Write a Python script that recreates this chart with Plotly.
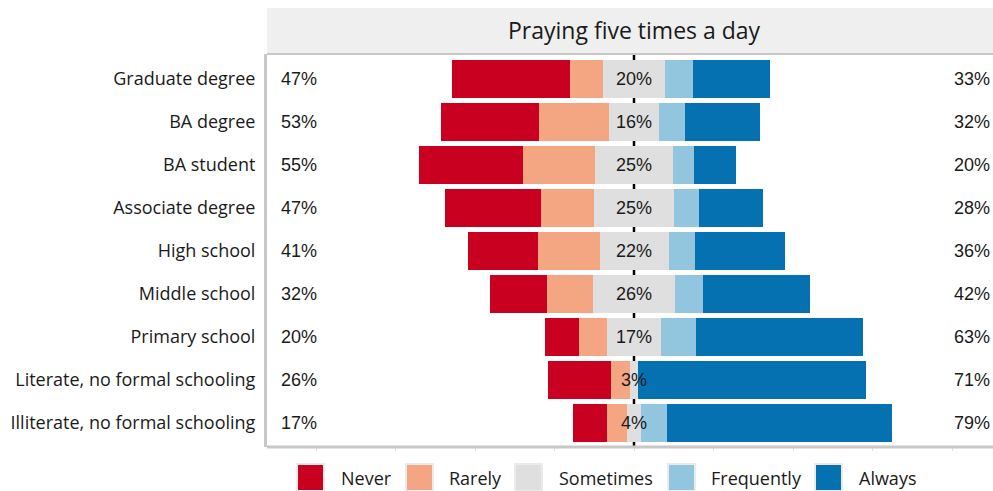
import plotly.graph_objects as go

categories = ["Graduate degree", "BA degree", "BA student", "Associate degree",
              "High school", "Middle school", "Primary school",
              "Literate, no formal schooling", "Illiterate, no formal schooling"]
never      = [37.1, 30.8, 32.7, 30.2, 22.3, 17.9, 10.7, 20.1, 10.7]
rarely     = [10.1, 22.0, 22.6, 16.7, 19.2, 14.5,  8.8,  5.7,  6.3]
sometimes  = [19.8, 15.6, 24.8, 25.2, 21.7, 25.6, 17.0,  2.8,  4.1]
frequently = [ 8.5,  8.2,  6.6,  7.9,  8.2,  8.8, 11.0,  0.0,  8.2]
always     = [24.5, 23.6, 13.2, 20.1, 28.3, 33.6, 52.5, 71.4, 70.8]
left_labels  = ["47%", "53%", "55%", "47%", "41%", "32%", "20%", "26%", "17%"]
mid_labels   = ["20%", "16%", "25%", "25%", "22%", "26%", "17%", "3%", "4%"]
right_labels = ["33%", "32%", "20%", "28%", "36%", "42%", "63%", "71%", "79%"]
levels = ["Never", "Rarely", "Sometimes", "Frequently", "Always"]
colors = ["#CA0020", "#F4A582", "#DFDFDF", "#92C5DE", "#0571B0"]
title = "Praying five times a day"

W, H = 993, 491
L, R, T, B = 267, 0, 54, 44
PW, PH = W - L - R, H - T - B

def px(x):
    return (x - L) / PW

def py(y):
    return (H - B - y) / PH

half = [s / 2 for s in sometimes]
bases = [
    [-(h + r + n) for h, r, n in zip(half, rarely, never)],
    [-(h + r) for h, r in zip(half, rarely)],
    [-h for h in half],
    [h for h in half],
    [h + f for h, f in zip(half, frequently)],
]
widths = [never, rarely, sometimes, frequently, always]

fig = go.Figure()
for lvl, col, b, w in zip(levels, colors, bases, widths):
    fig.add_trace(go.Bar(y=categories, x=w, base=b, orientation="h", name=lvl,
                         marker=dict(color=col, line=dict(width=0)), width=0.9,
                         showlegend=False, hoverinfo="skip"))

num_font = dict(family="Liberation Sans, Arial, sans-serif", size=18, color="#1a1a1a")
for cat, ll, ml, rl in zip(categories, left_labels, mid_labels, right_labels):
    fig.add_annotation(x=-111.6, y=cat, text=ll, showarrow=False, xanchor="left",
                       font=num_font)
    fig.add_annotation(x=0, y=cat, text=ml, showarrow=False, xanchor="center",
                       font=num_font)
    fig.add_annotation(x=px(992), xref="paper", y=cat, text=rl, showarrow=False,
                       xanchor="right", font=num_font)

shapes = []
# center line behind bars
shapes.append(dict(type="line", xref="x", yref="paper", x0=0, x1=0, y0=0, y1=1,
                   line=dict(color="black", width=2.5), layer="below"))
# strip
shapes.append(dict(type="rect", xref="paper", yref="paper", x0=0, x1=1,
                   y0=1, y1=py(8), fillcolor="#EFEFEF", line=dict(width=0)))
shapes.append(dict(type="line", xref="paper", yref="paper", x0=0, x1=1,
                   y0=1, y1=1, line=dict(color="#C8C8C8", width=2)))
shapes.append(dict(type="line", xref="paper", yref="paper", x0=0, x1=1,
                   y0=0, y1=0, line=dict(color="#C8C8C8", width=3)))
fig.add_annotation(x=0, xref="x", y=py(30), yref="paper", text=title, showarrow=False,
                   font=dict(family="Open Sans, sans-serif", size=23, color="#1a1a1a"),
                   yanchor="middle")

# legend
leg_sq = [297, 406, 515, 668, 815]
leg_tx = [339, 447, 557, 709, 857]
for lvl, col, sx, tx in zip(levels, colors, leg_sq, leg_tx):
    shapes.append(dict(type="rect", xref="paper", yref="paper",
                       x0=px(sx), x1=px(sx + 27), y0=py(464), y1=py(491),
                       fillcolor=col, line=dict(color="#EBEBEB", width=2)))
    fig.add_annotation(x=px(tx), xref="paper", y=py(478), yref="paper", text=lvl,
                       showarrow=False, xanchor="left", yanchor="middle",
                       font=dict(family="Open Sans, sans-serif", size=18, color="#1a1a1a"))

fig.update_layout(
    width=W, height=H, barmode="overlay", bargap=0,
    margin=dict(l=L, r=R, t=T, b=B, pad=0),
    plot_bgcolor="white", paper_bgcolor="white",
    shapes=shapes, showlegend=False,
    xaxis=dict(range=[(L - 634) / 3.18, (W - 634) / 3.18], showgrid=False,
               zeroline=False, showticklabels=False, tickvals=[-100, -75, -50, -25, 0, 25, 50, 75, 100],
               ticks="outside", ticklen=3, tickcolor="#DDDDDD", fixedrange=True),
    yaxis=dict(type="category", categoryorder="array", categoryarray=categories,
               range=[8.56, -0.58], showgrid=False, zeroline=False,
               showline=True, linecolor="#C8C8C8", linewidth=3,
               ticks="", ticklabelstandoff=5,
               tickfont=dict(family="Open Sans, sans-serif", size=18, color="#1a1a1a")),
)

fig.write_html("out.html", config={"displayModeBar": False},
               post_script="document.body.style.margin='0';")
